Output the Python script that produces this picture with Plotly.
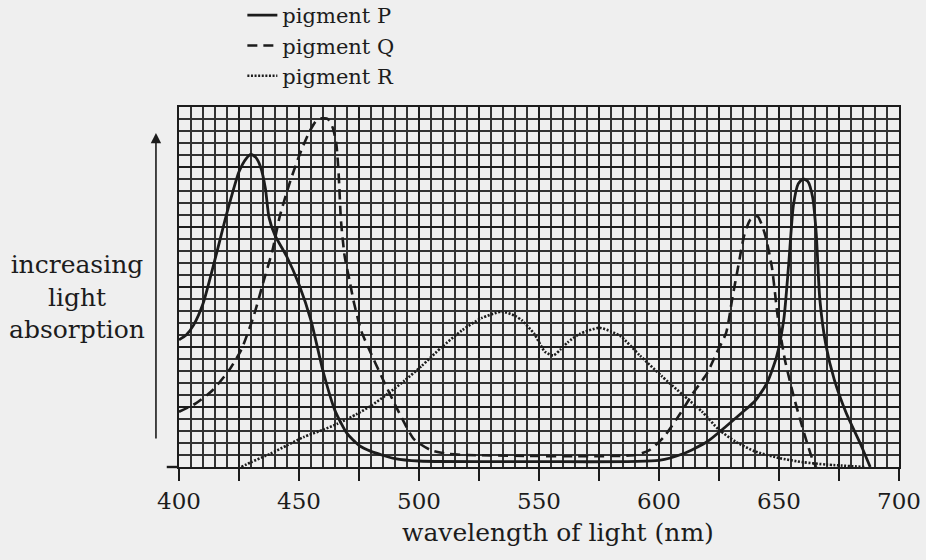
import plotly.graph_objects as go

# ---- data (wavelength nm, relative absorption in grid units) ----
p_wavelength = [400, 403, 406, 410, 415, 420, 425, 428, 430, 432, 434, 436, 437.5, 440, 445, 450, 455,
                460, 465, 470, 475, 480, 490, 500, 550, 600, 610, 620, 628, 635, 640, 645, 649,
                652, 654, 656, 658, 660, 662, 664, 665.5, 667, 669.5, 673, 678, 684, 688]
p_absorption = [10.6, 11.0, 11.8, 13.6, 17.3, 21.2, 24.6, 25.7, 26.05, 25.8, 25.0, 23.2, 20.8, 19.3, 17.5, 15.2, 12.2,
                8.0, 4.7, 2.8, 1.8, 1.3, 0.7, 0.5, 0.45, 0.55, 1.1, 2.1, 3.4, 4.6, 5.5, 7.0, 9.2,
                12.3, 16.8, 21.8, 23.6, 24.0, 23.8, 22.5, 19.5, 14.0, 10.2, 7.3, 4.5, 1.9, 0.0]

q_wavelength = [400, 407, 414, 421, 426, 431, 435, 439, 442, 446, 450, 454, 457, 459.5, 462, 464,
                465.5, 466.5, 467.5, 469, 471, 473, 476, 479, 484.5, 491, 498, 505, 512, 520, 590,
                596, 602, 609, 614, 620, 624, 628, 630.5, 633, 635.5, 638, 641, 644, 647, 649.5,
                652.5, 656.5, 660.5, 664, 665.5]
q_absorption = [4.6, 5.3, 6.4, 8.1, 9.8, 12.5, 15.3, 18.1, 20.9, 23.6, 25.9, 27.8, 28.8, 29.05, 29.0, 28.3,
                27.0, 24.5, 20.5, 17.6, 15.6, 13.6, 11.3, 9.9, 7.5, 4.8, 2.3, 1.4, 1.1, 1.0, 1.0,
                1.4, 2.5, 4.5, 6.1, 7.8, 9.5, 11.2, 14.0, 16.7, 19.3, 20.6, 20.9, 19.5, 16.7, 12.5,
                8.9, 5.6, 2.8, 0.6, 0.0]

r_wavelength = [426, 430, 438, 445, 452, 460, 466, 474, 480, 487, 494, 501, 509.5, 518, 526, 534.5,
                540, 543, 548, 552.5, 556, 559, 562, 567, 575, 580, 584, 592, 601, 610, 618, 625,
                632, 640, 650, 660, 670, 686]
r_absorption = [0.0, 0.4, 1.1, 1.8, 2.5, 3.1, 3.6, 4.4, 5.1, 6.1, 7.2, 8.4, 10.0, 11.4, 12.4, 12.95,
                12.6, 12.2, 11.1, 9.6, 9.3, 9.8, 10.4, 11.1, 11.6, 11.3, 10.9, 9.3, 7.6, 6.0, 4.6, 3.1,
                2.1, 1.3, 0.75, 0.4, 0.2, 0.0]

series_names = ["pigment P", "pigment Q", "pigment R"]

x_tick_vals = [400, 425, 450, 475, 500, 525, 550, 575, 600, 625, 650, 675, 700]
x_tick_text = ["400", "", "450", "", "500", "", "550", "", "600", "", "650", "", "700"]
y_major_vals = [0, 5, 10, 15, 20, 25, 30]

x_title = "wavelength of light (nm)"
y_title = "increasing<br>light<br>absorption"

# ---- styling ----
INK = "#1c1c1c"
PAPER = "#efefef"
FONT = "DejaVu Serif"

fig = go.Figure()
styles = [("solid", 2.8), ("10px,6px", 2.6), ("2px,1.6px", 2.6)]
for name, xs, ys, (dash, w) in zip(series_names,
                                   [p_wavelength, q_wavelength, r_wavelength],
                                   [p_absorption, q_absorption, r_absorption],
                                   styles):
    fig.add_trace(go.Scatter(x=xs, y=ys, name=name, mode="lines",
                             line=dict(color=INK, width=w, dash=dash,
                                       shape="spline", smoothing=0.6)))

fig.update_layout(
    width=926, height=560,
    margin=dict(l=179, r=27, t=107, b=93, autoexpand=False),
    paper_bgcolor=PAPER, plot_bgcolor=PAPER,
    font=dict(family=FONT, color=INK),
    showlegend=True,
    legend=dict(x=0.088, y=1.311, xanchor="left", yanchor="top",
                bgcolor="rgba(0,0,0,0)", font=dict(family=FONT, size=21, color=INK),
                tracegroupgap=0),
    xaxis=dict(range=[400, 700], tickmode="array", tickvals=x_tick_vals, ticktext=x_tick_text,
               ticks="outside", ticklen=12, tickwidth=2, tickcolor=INK,
               tickfont=dict(family=FONT, size=23, color=INK),
               showgrid=True, gridcolor="#1e1e1e", gridwidth=2.4,
               minor=dict(tick0=400, dtick=5, showgrid=True, gridcolor="#333333",
                          gridwidth=1.6, ticks=""),
               showline=True, linecolor=INK, linewidth=2.4, mirror=True,
               zeroline=False, fixedrange=True, automargin=False),
    yaxis=dict(range=[0, 30], tickmode="array", tickvals=y_major_vals,
               showticklabels=False, ticks="",
               showgrid=True, gridcolor="#1e1e1e", gridwidth=2.4,
               minor=dict(tick0=0, dtick=1, showgrid=True, gridcolor="#333333",
                          gridwidth=1.6, ticks=""),
               showline=True, linecolor=INK, linewidth=2.4, mirror=True,
               zeroline=False, fixedrange=True, automargin=False),
)

# x-axis title (placed slightly right of centre as in the original)
fig.add_annotation(text=x_title, xref="paper", yref="paper", x=0.526, y=-0.181,
                   xanchor="center", yanchor="middle", showarrow=False,
                   font=dict(family=FONT, size=25, color=INK))
# y-axis label
fig.add_annotation(text=y_title, xref="paper", yref="paper", x=-0.141, y=0.473,
                   xanchor="center", yanchor="middle", align="center", showarrow=False,
                   font=dict(family=FONT, size=25, color=INK))
# upward arrow beside the plot
fig.add_annotation(text="", xref="paper", yref="paper", x=-0.032, y=0.928,
                   ax=0, ay=307, showarrow=True, arrowhead=2, arrowsize=1.3,
                   arrowwidth=1.6, arrowcolor=INK, standoff=0)
# small extension of the baseline to the left
fig.add_shape(type="line", xref="paper", yref="paper", x0=-0.017, x1=0, y0=0, y1=0,
              line=dict(color=INK, width=2.4))

fig.write_html("out.html", config={"displayModeBar": False},
               post_script="document.body.style.margin='0';document.body.style.overflow='hidden';")
